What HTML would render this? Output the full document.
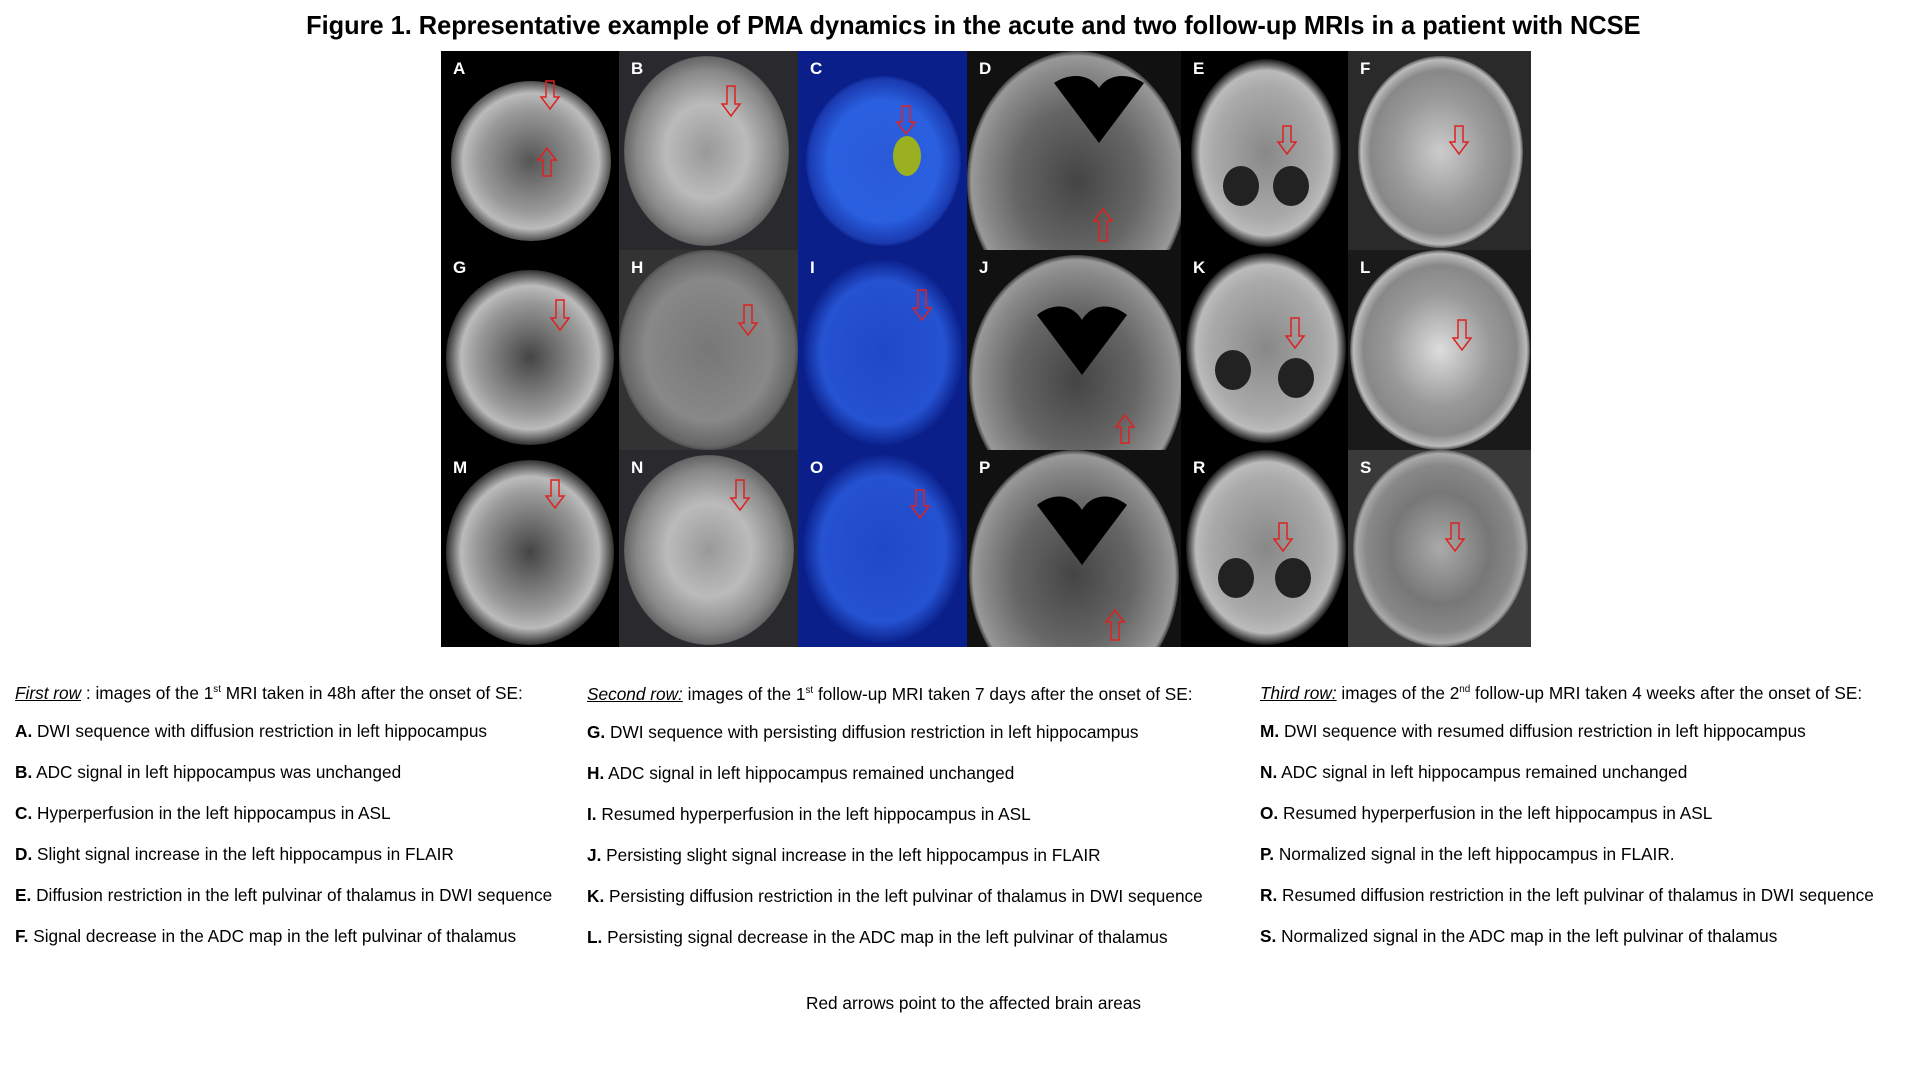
<!DOCTYPE html>
<html><head><meta charset="utf-8"><style>
body{margin:0;width:1923px;height:1067px;background:#fff;position:relative;overflow:hidden;font-family:"Liberation Sans",sans-serif;}
.t{position:absolute;left:12px;top:10px;width:1923px;text-align:center;}
.t span{display:inline-block;font-weight:bold;font-size:26px;transform:scaleX(0.975);white-space:nowrap;color:#000;}
.tile{position:absolute;overflow:hidden;}
.tile .b{position:absolute;border-radius:50%;}
.tile .lab{position:absolute;left:12px;top:8px;color:#fff;font-weight:bold;font-size:17px;}
.tile svg{position:absolute;left:0;top:0;}
.tx{position:absolute;font-size:17.5px;color:#000;white-space:nowrap;transform:scaleX(0.985);transform-origin:0 50%;line-height:20px;}
sup{font-size:10px;}
</style></head><body>
<div class="t"><span>Figure 1. Representative example of PMA dynamics in the acute and two follow-up MRIs in a patient with NCSE</span></div>

<div style="position:absolute;left:441px;top:51px;width:1090px;height:596px;background:#000"></div>

<!-- Row 1 -->
<div class="tile" style="left:441px;top:51px;width:178px;height:199px;background:#000"><div class="b" style="left:10px;top:30px;width:160px;height:160px;background:radial-gradient(ellipse,#555 0%,#999 45%,#bbb 60%,#222 75%,#000 80%)"></div><div class="lab">A</div>
<svg width="178" height="199"><path d="M105 30h8v16h5l-9 12-9-12h5z M110 125h-8v-16h-5l9-12 9 12h-5z" fill="none" stroke="#d22" stroke-width="1.5"/></svg></div>
<div class="tile" style="left:619px;top:51px;width:179px;height:199px;background:#2a2a2e"><div class="b" style="left:5px;top:5px;width:165px;height:190px;background:radial-gradient(ellipse,#999 0%,#bbb 35%,#888 60%,#666 70%,#2a2a2e 72%)"></div><div class="lab">B</div>
<svg width="179" height="199"><path d="M108 35h8v18h5l-9 12-9-12h5z" fill="none" stroke="#d22" stroke-width="1.5"/></svg></div>
<div class="tile" style="left:798px;top:51px;width:169px;height:199px;background:#0a1f8a"><div class="b" style="left:8px;top:25px;width:155px;height:170px;background:radial-gradient(ellipse,#2a5ad8 0%,#2a60e0 50%,#1a3ab0 68%,#0a1f8a 72%)"></div>
<div class="b" style="left:95px;top:85px;width:28px;height:40px;background:#9ab020"></div><div class="lab">C</div>
<svg width="169" height="199"><path d="M104 55h8v16h5l-9 12-9-12h5z" fill="none" stroke="#d22" stroke-width="1.5"/></svg></div>
<div class="tile" style="left:967px;top:51px;width:214px;height:199px;background:#111"><div class="b" style="left:0;top:0;width:220px;height:260px;background:radial-gradient(ellipse,#444 0%,#666 40%,#888 60%,#999 68%,#111 72%)"></div><div class="lab">D</div>
<svg width="214" height="199"><path d="M87 32c15-10 35-10 45 5c10-15 30-15 45-5l-45 60z" fill="#000"/><path d="M140 190h-8v-20h-5l9-12 9 12h-5z" fill="none" stroke="#d22" stroke-width="1.5"/></svg></div>
<div class="tile" style="left:1181px;top:51px;width:167px;height:199px;background:#000"><div class="b" style="left:10px;top:8px;width:150px;height:188px;background:radial-gradient(ellipse,#888 0%,#aaa 50%,#bbb 62%,#000 72%)"></div><div class="lab">E</div>
<svg width="167" height="199"><path d="M102 75h8v16h5l-9 12-9-12h5z" fill="none" stroke="#d22" stroke-width="1.5"/><ellipse cx="60" cy="135" rx="18" ry="20" fill="#222"/><ellipse cx="110" cy="135" rx="18" ry="20" fill="#222"/></svg></div>
<div class="tile" style="left:1348px;top:51px;width:183px;height:199px;background:#2a2a2a"><div class="b" style="left:10px;top:5px;width:165px;height:192px;background:radial-gradient(ellipse,#ccc 0%,#999 40%,#888 60%,#bbb 68%,#2a2a2a 72%)"></div><div class="lab">F</div>
<svg width="181" height="199"><path d="M107 75h8v16h5l-9 12-9-12h5z" fill="none" stroke="#d22" stroke-width="1.5"/></svg></div>

<!-- Row 2 -->
<div class="tile" style="left:441px;top:250px;width:178px;height:200px;background:#000"><div class="b" style="left:5px;top:20px;width:168px;height:175px;background:radial-gradient(ellipse,#444 0%,#999 45%,#bbb 58%,#222 72%,#000 76%)"></div><div class="lab">G</div>
<svg width="178" height="200"><path d="M115 50h8v18h5l-9 12-9-12h5z" fill="none" stroke="#d22" stroke-width="1.5"/></svg></div>
<div class="tile" style="left:619px;top:250px;width:179px;height:200px;background:#333"><div class="b" style="left:0;top:0;width:179px;height:200px;background:radial-gradient(ellipse,#777 0%,#888 50%,#666 68%,#333 74%)"></div><div class="lab">H</div>
<svg width="179" height="200"><path d="M125 55h8v18h5l-9 12-9-12h5z" fill="none" stroke="#d22" stroke-width="1.5"/></svg></div>
<div class="tile" style="left:798px;top:250px;width:169px;height:200px;background:#0a1f8a"><div class="b" style="left:5px;top:10px;width:160px;height:185px;background:radial-gradient(ellipse,#1e48c8 0%,#2552d0 55%,#0a1f8a 72%)"></div><div class="lab">I</div>
<svg width="169" height="200"><path d="M120 40h8v18h5l-9 12-9-12h5z" fill="none" stroke="#d22" stroke-width="1.5"/></svg></div>
<div class="tile" style="left:967px;top:250px;width:214px;height:200px;background:#111"><div class="b" style="left:2px;top:5px;width:215px;height:250px;background:radial-gradient(ellipse,#444 0%,#666 40%,#888 60%,#999 68%,#111 72%)"></div><div class="lab">J</div>
<svg width="214" height="200"><path d="M70 65c15-12 35-12 45 5c10-17 30-17 45-5l-45 60z" fill="#000"/><path d="M162 193h-8v-16h-5l9-12 9 12h-5z" fill="none" stroke="#d22" stroke-width="1.5"/></svg></div>
<div class="tile" style="left:1181px;top:250px;width:167px;height:200px;background:#000"><div class="b" style="left:5px;top:3px;width:160px;height:190px;background:radial-gradient(ellipse,#888 0%,#aaa 50%,#bbb 62%,#000 72%)"></div><div class="lab">K</div>
<svg width="167" height="200"><path d="M110 68h8v18h5l-9 12-9-12h5z" fill="none" stroke="#d22" stroke-width="1.5"/><ellipse cx="52" cy="120" rx="18" ry="20" fill="#222"/><ellipse cx="115" cy="128" rx="18" ry="20" fill="#222"/></svg></div>
<div class="tile" style="left:1348px;top:250px;width:183px;height:200px;background:#1a1a1a"><div class="b" style="left:2px;top:0;width:180px;height:200px;background:radial-gradient(ellipse,#ddd 0%,#999 40%,#888 60%,#bbb 68%,#1a1a1a 72%)"></div><div class="lab">L</div>
<svg width="181" height="200"><path d="M110 70h8v18h5l-9 12-9-12h5z" fill="none" stroke="#d22" stroke-width="1.5"/></svg></div>

<!-- Row 3 -->
<div class="tile" style="left:441px;top:450px;width:178px;height:197px;background:#000"><div class="b" style="left:5px;top:10px;width:168px;height:185px;background:radial-gradient(ellipse,#444 0%,#999 45%,#bbb 58%,#222 72%,#000 76%)"></div><div class="lab">M</div>
<svg width="178" height="197"><path d="M110 30h8v16h5l-9 12-9-12h5z" fill="none" stroke="#d22" stroke-width="1.5"/></svg></div>
<div class="tile" style="left:619px;top:450px;width:179px;height:197px;background:#2a2a2e"><div class="b" style="left:5px;top:5px;width:170px;height:190px;background:radial-gradient(ellipse,#999 0%,#bbb 35%,#888 60%,#666 70%,#2a2a2e 72%)"></div><div class="lab">N</div>
<svg width="179" height="197"><path d="M117 30h8v18h5l-9 12-9-12h5z" fill="none" stroke="#d22" stroke-width="1.5"/></svg></div>
<div class="tile" style="left:798px;top:450px;width:169px;height:197px;background:#0a1f8a"><div class="b" style="left:5px;top:5px;width:160px;height:188px;background:radial-gradient(ellipse,#1e48c8 0%,#2552d0 55%,#0a1f8a 72%)"></div><div class="lab">O</div>
<svg width="169" height="197"><path d="M118 40h8v16h5l-9 12-9-12h5z" fill="none" stroke="#d22" stroke-width="1.5"/></svg></div>
<div class="tile" style="left:967px;top:450px;width:214px;height:197px;background:#111"><div class="b" style="left:2px;top:0;width:210px;height:250px;background:radial-gradient(ellipse,#444 0%,#666 40%,#888 60%,#999 68%,#111 72%)"></div><div class="lab">P</div>
<svg width="214" height="197"><path d="M70 55c15-12 35-12 45 5c10-17 30-17 45-5l-45 60z" fill="#000"/><path d="M152 190h-8v-18h-5l9-12 9 12h-5z" fill="none" stroke="#d22" stroke-width="1.5"/></svg></div>
<div class="tile" style="left:1181px;top:450px;width:167px;height:197px;background:#000"><div class="b" style="left:5px;top:0;width:160px;height:195px;background:radial-gradient(ellipse,#888 0%,#aaa 50%,#bbb 62%,#000 72%)"></div><div class="lab">R</div>
<svg width="167" height="197"><path d="M98 73h8v16h5l-9 12-9-12h5z" fill="none" stroke="#d22" stroke-width="1.5"/><ellipse cx="55" cy="128" rx="18" ry="20" fill="#222"/><ellipse cx="112" cy="128" rx="18" ry="20" fill="#222"/></svg></div>
<div class="tile" style="left:1348px;top:450px;width:183px;height:197px;background:#3a3a3a"><div class="b" style="left:5px;top:0;width:175px;height:197px;background:radial-gradient(ellipse,#aaa 0%,#777 40%,#888 60%,#aaa 68%,#3a3a3a 72%)"></div><div class="lab">S</div>
<svg width="181" height="197"><path d="M103 73h8v16h5l-9 12-9-12h5z" fill="none" stroke="#d22" stroke-width="1.5"/></svg></div>

<!-- Text columns -->
<div class="tx" style="left:15px;top:680px"><u><i>First row</i></u> : images of the 1<sup>st</sup> MRI taken in 48h after the onset of SE:</div>
<div class="tx" style="left:15px;top:721px"><b>A.</b> DWI sequence with diffusion restriction in left hippocampus</div>
<div class="tx" style="left:15px;top:762px"><b>B.</b> ADC signal in left hippocampus was unchanged</div>
<div class="tx" style="left:15px;top:803px"><b>C.</b> Hyperperfusion in the left hippocampus in ASL</div>
<div class="tx" style="left:15px;top:844px"><b>D.</b> Slight signal increase in the left hippocampus in FLAIR</div>
<div class="tx" style="left:15px;top:885px"><b>E.</b> Diffusion restriction in the left pulvinar of thalamus in DWI sequence</div>
<div class="tx" style="left:15px;top:926px"><b>F.</b> Signal decrease in the ADC map in the left pulvinar of thalamus</div>

<div class="tx" style="left:587px;top:681px"><u><i>Second row:</i></u> images of the 1<sup>st</sup> follow-up MRI taken 7 days after the onset of SE:</div>
<div class="tx" style="left:587px;top:722px"><b>G.</b> DWI sequence with persisting diffusion restriction in left hippocampus</div>
<div class="tx" style="left:587px;top:763px"><b>H.</b> ADC signal in left hippocampus remained unchanged</div>
<div class="tx" style="left:587px;top:804px"><b>I.</b> Resumed hyperperfusion in the left hippocampus in ASL</div>
<div class="tx" style="left:587px;top:845px"><b>J.</b> Persisting slight signal increase in the left hippocampus in FLAIR</div>
<div class="tx" style="left:587px;top:886px"><b>K.</b> Persisting diffusion restriction in the left pulvinar of thalamus in DWI sequence</div>
<div class="tx" style="left:587px;top:927px"><b>L.</b> Persisting signal decrease in the ADC map in the left pulvinar of thalamus</div>

<div class="tx" style="left:1260px;top:680px"><u><i>Third row:</i></u> images of the 2<sup>nd</sup> follow-up MRI taken 4 weeks after the onset of SE:</div>
<div class="tx" style="left:1260px;top:721px"><b>M.</b> DWI sequence with resumed diffusion restriction in left hippocampus</div>
<div class="tx" style="left:1260px;top:762px"><b>N.</b> ADC signal in left hippocampus remained unchanged</div>
<div class="tx" style="left:1260px;top:803px"><b>O.</b> Resumed hyperperfusion in the left hippocampus in ASL</div>
<div class="tx" style="left:1260px;top:844px"><b>P.</b> Normalized signal in the left hippocampus in FLAIR.</div>
<div class="tx" style="left:1260px;top:885px"><b>R.</b> Resumed diffusion restriction in the left pulvinar of thalamus in DWI sequence</div>
<div class="tx" style="left:1260px;top:926px"><b>S.</b> Normalized signal in the ADC map in the left pulvinar of thalamus</div>

<div class="tx" style="left:806px;top:993px">Red arrows point to the affected brain areas</div>
</body></html>
